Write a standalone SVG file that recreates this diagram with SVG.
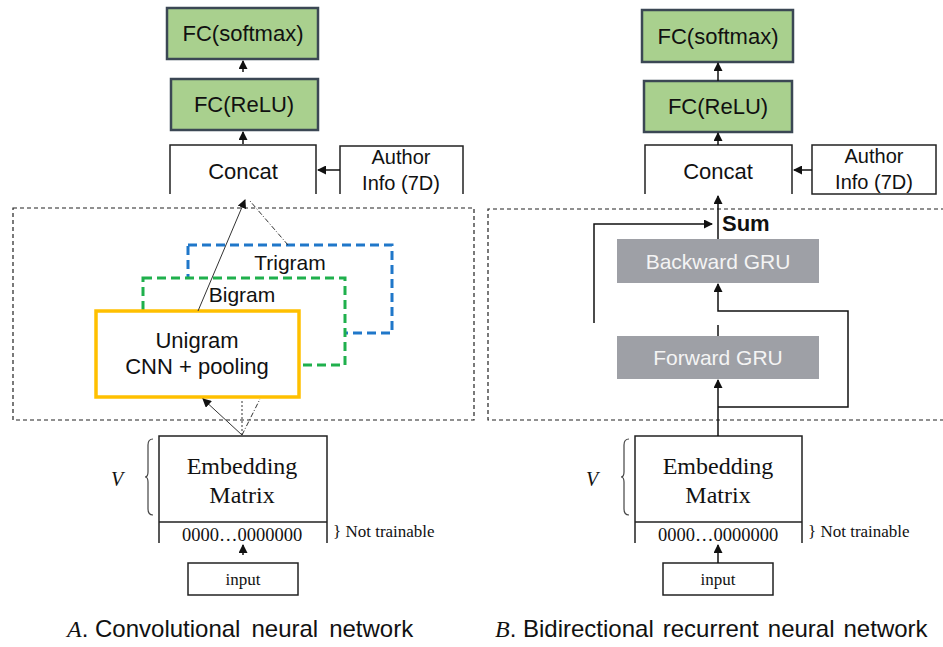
<svg xmlns="http://www.w3.org/2000/svg" width="943" height="647" viewBox="0 0 943 647">
<style>
.sans{font-family:"Liberation Sans",Arial,sans-serif;fill:#111}
.serif{font-family:"Liberation Serif","Times New Roman",serif;fill:#111}
.fc{fill:#a9d08e;stroke:#3b4754;stroke-width:2.5}
.box{fill:#fff;stroke:#222;stroke-width:1.5}
.gru{fill:#9ea0a6}
.grut{font-family:"Liberation Sans",Arial,sans-serif;fill:#f4f4f4;font-size:21px}
.dash{fill:none;stroke:#222;stroke-width:1.2;stroke-dasharray:4 3}
.ln{fill:none;stroke:#111;stroke-width:1.5}
.thin{fill:none;stroke:#333;stroke-width:1}
.brace{fill:none;stroke:#444;stroke-width:1.2}
.cap{font-family:"Liberation Sans",Arial,sans-serif;font-style:normal}
</style>
<defs>
<marker id="ah" markerUnits="userSpaceOnUse" markerWidth="9" markerHeight="9" refX="8" refY="4.5" orient="auto">
<path d="M0,0 L9,4.5 L0,9 z" fill="#111"/>
</marker>
</defs>

<!-- ===== Panel A ===== -->
<g id="a-outer"><rect x="13" y="208" width="461" height="212" class="dash"/></g>
<g id="a-fc-softmax"><rect x="167" y="8" width="151" height="51" class="fc"/><text x="243" y="41" text-anchor="middle" class="sans" font-size="22">FC(softmax)</text></g>
<g id="a-fc-relu"><rect x="171" y="79" width="147" height="51" class="fc"/><text x="244" y="112" text-anchor="middle" class="sans" font-size="22">FC(ReLU)</text></g>
<g id="a-concat"><path d="M170,194 V145 H316 V194" class="box"/><text x="243" y="179" text-anchor="middle" class="sans" font-size="22">Concat</text></g>
<g id="a-author"><path d="M340,194 V146 H463 V194" class="box"/><text x="401" y="164" text-anchor="middle" class="sans" font-size="20">Author</text><text x="401" y="190" text-anchor="middle" class="sans" font-size="20">Info (7D)</text></g>
<g id="a-trigram"><rect x="188" y="245" width="204" height="88" fill="#fff" stroke="#1f77c9" stroke-width="3" stroke-dasharray="9 5"/><text x="290" y="270" text-anchor="middle" class="sans" font-size="21">Trigram</text></g>
<g id="a-bigram"><rect x="143" y="278" width="202" height="87" fill="#fff" stroke="#1fb04c" stroke-width="3" stroke-dasharray="9 5"/><text x="242" y="302" text-anchor="middle" class="sans" font-size="21">Bigram</text></g>
<g id="a-unigram"><rect x="96" y="311" width="203" height="86" fill="#fff" stroke="#ffc000" stroke-width="3.5"/><text x="197" y="348" text-anchor="middle" class="sans" font-size="22">Unigram</text><text x="197" y="374" text-anchor="middle" class="sans" font-size="22">CNN + pooling</text></g>
<g id="a-embedding"><path d="M159,543 V436 H327 V543 M159,522 H327" class="box"/><text x="242" y="474" text-anchor="middle" class="serif" font-size="24">Embedding</text><text x="242" y="503" text-anchor="middle" class="serif" font-size="24">Matrix</text><text x="242" y="541" text-anchor="middle" class="serif" font-size="18.5">0000…0000000</text>
<path d="M153,439 Q148,439 148,445 V472 Q148,477 145,477 Q148,477 148,482 V509 Q148,515 153,515" class="brace"/>
<text x="117" y="486" text-anchor="middle" class="serif" font-size="20" font-style="italic">V</text>
<text x="333" y="537" class="serif" font-size="17">} Not trainable</text></g>
<g id="a-input"><rect x="188" y="563" width="110" height="32" class="box"/><text x="243" y="585" text-anchor="middle" class="serif" font-size="17">input</text></g>
<g id="a-caption"><text x="67" y="637" class="serif" font-size="24" font-style="italic">A<tspan class="cap">. Convolutional</tspan><tspan class="cap" dx="11">neural</tspan><tspan class="cap" dx="11">network</tspan></text></g>

<g id="a-connectors">
<line x1="243" y1="72" x2="243" y2="61" class="ln" marker-end="url(#ah)"/>
<line x1="243" y1="144" x2="243" y2="132" class="ln" marker-end="url(#ah)"/>
<line x1="340" y1="170" x2="318" y2="170" class="ln" marker-end="url(#ah)"/>
<line x1="198" y1="311" x2="245" y2="200" class="thin" marker-end="url(#ah)"/>
<line x1="288" y1="245" x2="250" y2="201" class="thin" stroke-dasharray="5 2 1 2"/>
<line x1="242" y1="435" x2="203" y2="399" class="thin" marker-end="url(#ah)"/>
<line x1="242" y1="435" x2="242" y2="399" class="thin" stroke-dasharray="2 2"/>
<line x1="242" y1="435" x2="260" y2="399" class="thin" stroke-dasharray="5 2 1 2"/>
<line x1="243" y1="555" x2="243" y2="545" class="ln" marker-end="url(#ah)"/>
</g>

<!-- ===== Panel B ===== -->
<g id="b-outer"><path d="M945,209 H488 V420 H945" class="dash"/></g>
<g id="b-fc-softmax"><rect x="642" y="10" width="151" height="52" class="fc"/><text x="718" y="44" text-anchor="middle" class="sans" font-size="22">FC(softmax)</text></g>
<g id="b-fc-relu"><rect x="644" y="81" width="148" height="51" class="fc"/><text x="718" y="114" text-anchor="middle" class="sans" font-size="22">FC(ReLU)</text></g>
<g id="b-concat"><path d="M645,194 V145 H792 V194" class="box"/><text x="718" y="179" text-anchor="middle" class="sans" font-size="22">Concat</text></g>
<g id="b-author"><rect x="812" y="145" width="124" height="49" class="box"/><text x="874" y="163" text-anchor="middle" class="sans" font-size="20">Author</text><text x="874" y="189" text-anchor="middle" class="sans" font-size="20">Info (7D)</text></g>
<g id="b-sum"><text x="722" y="231" class="sans" font-size="22" font-weight="bold">Sum</text></g>
<g id="b-backward"><rect x="617" y="239" width="202" height="44" class="gru"/><text x="718" y="269" text-anchor="middle" class="grut">Backward GRU</text></g>
<g id="b-forward"><rect x="617" y="336" width="202" height="43" class="gru"/><text x="718" y="365" text-anchor="middle" class="grut">Forward GRU</text></g>
<g id="b-embedding"><path d="M635,543 V436 H802 V543 M635,522 H802" class="box"/><text x="718" y="474" text-anchor="middle" class="serif" font-size="24">Embedding</text><text x="718" y="503" text-anchor="middle" class="serif" font-size="24">Matrix</text><text x="718" y="541" text-anchor="middle" class="serif" font-size="18.5">0000…0000000</text>
<path d="M629,439 Q624,439 624,445 V472 Q624,477 621,477 Q624,477 624,482 V509 Q624,515 629,515" class="brace"/>
<text x="592" y="486" text-anchor="middle" class="serif" font-size="20" font-style="italic">V</text>
<text x="808" y="537" class="serif" font-size="17">} Not trainable</text></g>
<g id="b-input"><rect x="663" y="563" width="110" height="32" class="box"/><text x="718" y="585" text-anchor="middle" class="serif" font-size="17">input</text></g>
<g id="b-caption"><text x="495" y="637" class="serif" font-size="24" font-style="italic">B<tspan class="cap">. Bidirectional</tspan><tspan class="cap" dx="9">recurrent</tspan><tspan class="cap" dx="9">neural</tspan><tspan class="cap" dx="9">network</tspan></text></g>

<g id="b-connectors">
<line x1="718" y1="81" x2="718" y2="63" class="ln" marker-end="url(#ah)"/>
<line x1="718" y1="145" x2="718" y2="133" class="ln" marker-end="url(#ah)"/>
<line x1="812" y1="170" x2="794" y2="170" class="ln" marker-end="url(#ah)"/>
<line x1="718" y1="239" x2="718" y2="196" class="ln" marker-end="url(#ah)"/>
<path d="M594,323 V224 H712" class="ln" marker-end="url(#ah)"/>
<path d="M718,407 H848 V311 H718 V284" class="ln" marker-end="url(#ah)"/>
<line x1="718" y1="336" x2="718" y2="325" class="ln"/>
<line x1="718" y1="436" x2="718" y2="380" class="ln" marker-end="url(#ah)"/>
<line x1="718" y1="563" x2="718" y2="545" class="ln" marker-end="url(#ah)"/>
</g>
</svg>
